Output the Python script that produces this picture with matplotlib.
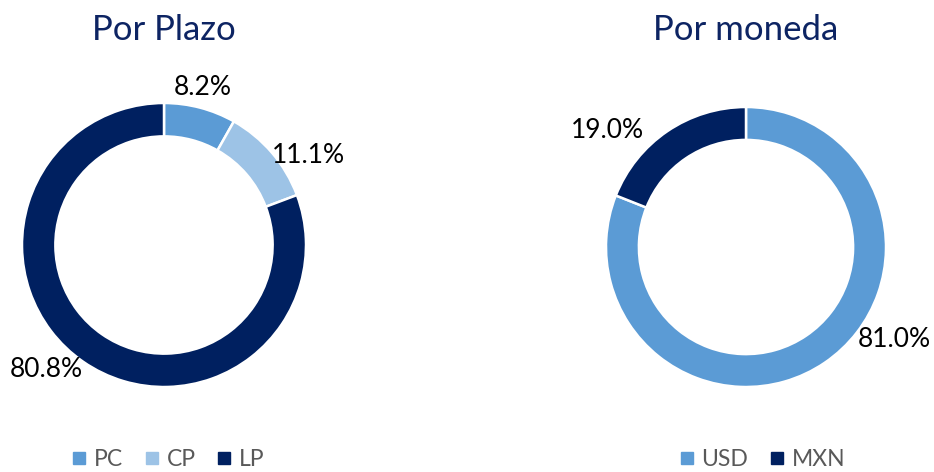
import matplotlib
matplotlib.use("Agg")
import matplotlib.pyplot as plt
from matplotlib.lines import Line2D
import numpy as np

plt.rcParams['font.family'] = ['Lato', 'DejaVu Sans']

# ---- data ----
plazo_labels = ["PC", "CP", "LP"]
plazo_values = [8.2, 11.1, 80.8]
moneda_labels = ["USD", "MXN"]
moneda_values = [81.0, 19.0]
titles = ["Por Plazo", "Por moneda"]

plazo_colors = ["#5B9BD5", "#9DC3E6", "#002060"]
moneda_colors = ["#5B9BD5", "#002060"]

FW, FH, DPI = 934, 472, 100
fig = plt.figure(figsize=(FW / DPI, FH / DPI), dpi=DPI)
fig.patch.set_facecolor("white")


def donut(cx, cy, R, values, colors, label_pos, title, title_y, legend_labels, legend_xy):
    W = 230.0
    ax = fig.add_axes([(cx - W) / FW, 1 - (cy + W) / FH, 2 * W / FW, 2 * W / FH])
    wedges, _ = ax.pie(values, colors=colors, startangle=90, counterclock=False,
                       radius=1.0, wedgeprops=dict(width=0.235, edgecolor="white", linewidth=1.8))
    lim = W / R
    ax.set_xlim(-lim, lim)
    ax.set_ylim(-lim, lim)
    ax.set_aspect("equal")
    ax.axis("off")
    for v, (ang, r) in zip(values, label_pos):
        a = np.deg2rad(ang)
        ax.text(r * np.cos(a), r * np.sin(a), f"{v:.1f}%", ha="center", va="center",
                fontsize=19, color="#000000")
    fig.text(cx / FW, 1 - title_y / FH, title, ha="center", va="center",
             fontsize=25, color="#0D2463")
    handles = [Line2D([0], [0], marker="s", linestyle="none", markersize=9,
                      markerfacecolor=c, markeredgecolor=c) for c in colors]
    fig.legend(handles, legend_labels, loc="center", ncol=len(legend_labels),
               bbox_to_anchor=(legend_xy[0] / FW, 1 - legend_xy[1] / FH),
               frameon=False, fontsize=16.5, labelcolor="#595959",
               handlelength=0.7, handletextpad=0.3, columnspacing=0.9)


donut(164, 245, 142, plazo_values, plazo_colors,
      [(76, 1.14), (31.8, 1.20), (226.6, 1.21)],
      titles[0], 30, plazo_labels, (168, 460))

donut(746, 247, 140, moneda_values, moneda_colors,
      [(-32, 1.25), (140, 1.29)],
      titles[1], 30, moneda_labels, (762, 460))

fig.savefig("out.png", dpi=DPI)
